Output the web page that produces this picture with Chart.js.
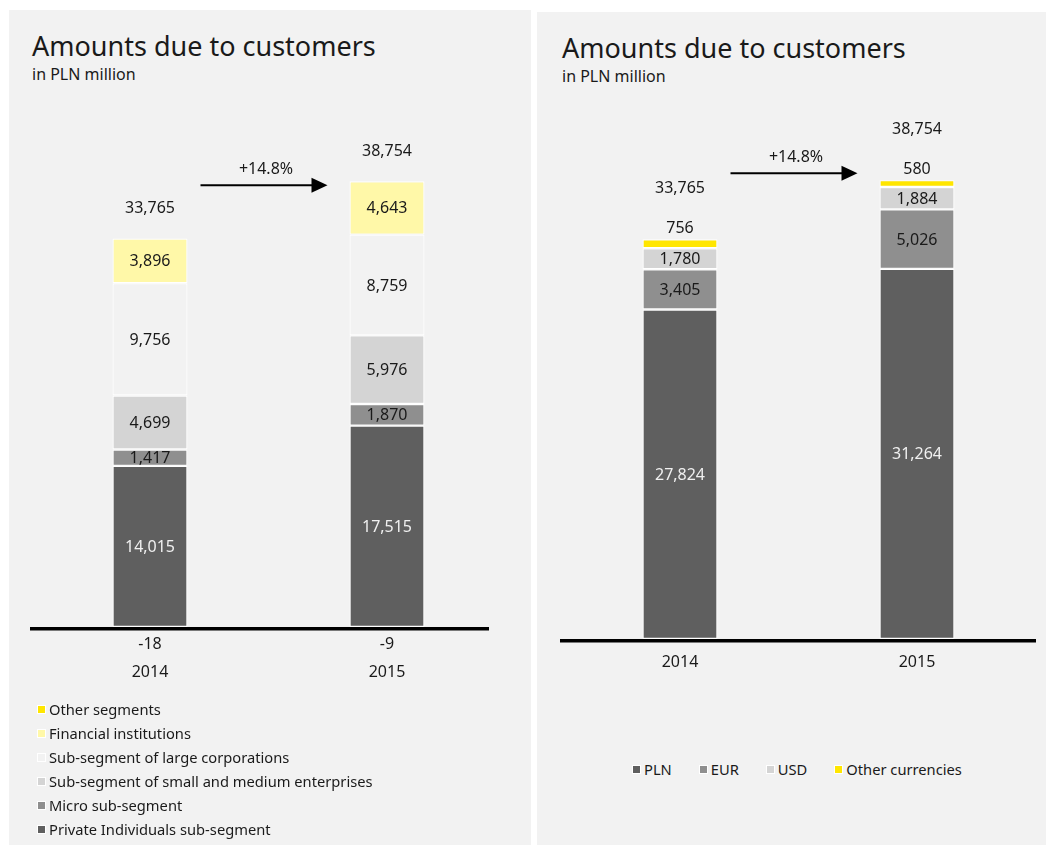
<!DOCTYPE html>
<html lang="en">
<head>
<meta charset="UTF-8">
<title>Amounts due to customers</title>
<script src="https://cdn.jsdelivr.net/npm/chart.js"></script>
<style>
    body { margin: 0; background: #fff; font-family: 'Noto Sans', sans-serif; color: #1a1a1a; }
    .panel { position: absolute; background: #f2f2f2; }
    .title { position: absolute; margin: 0; font-weight: 400; font-size: 27px; line-height: 27px; white-space: nowrap; }
    .sub { position: absolute; margin: 0; font-size: 16px; line-height: 16px; white-space: nowrap; }
    .chart { position: absolute; }
    .legend { position: absolute; font-size: 14.7px; line-height: 18px; }
    .legend .item { display: flex; align-items: center; white-space: nowrap; }
    .legend .box { width: 7px; height: 7px; border: 1px solid #fff; margin-right: 3px; }
    #legendLeft .item { height: 24px; }
    #legendRight { display: flex; gap: 27px; }
</style>
</head>
<body>
<div class="panel" style="left:9px; top:10px; width:522px; height:835px;"></div>
<div class="panel" style="left:537px; top:12px; width:509px; height:833px;"></div>

<h1 class="title" style="left:32px; top:32px;">Amounts due to customers</h1>
<div class="sub" style="left:32px; top:66px;">in PLN million</div>
<h1 class="title" style="left:562px; top:34px;">Amounts due to customers</h1>
<div class="sub" style="left:562px; top:68px;">in PLN million</div>

<div class="chart" style="left:10px; top:100px; width:520px; height:600px;"><canvas id="segChart"></canvas></div>
<div class="chart" style="left:538px; top:100px; width:508px; height:600px;"><canvas id="curChart"></canvas></div>

<div class="legend" id="legendLeft" style="left:37px; top:697px;"></div>
<div class="legend" id="legendRight" style="left:632px; top:760px;"></div>

<script>
    // data (PLN million)
    var years = ['2014', '2015'];

    var privateIndiv = [14015, 17515];
    var micro = [1417, 1870];
    var sme = [4699, 5976];
    var largeCorp = [9756, 8759];
    var finInst = [3896, 4643];
    var otherSeg = [-18, -9];

    var pln = [27824, 31264];
    var eur = [3405, 5026];
    var usd = [1780, 1884];
    var otherCur = [756, 580];

    var fmt = function (v) { return v.toLocaleString('en-US'); };

    // draws segment values, totals, growth arrow, axis line and year labels
    var barText = {
        id: 'barText',
        afterDatasetsDraw: function (chart, args, opts) {
            var ctx = chart.ctx;
            var area = chart.chartArea;
            var n = chart.data.labels.length;
            ctx.save();

            // thick base line
            ctx.strokeStyle = '#000';
            ctx.lineWidth = 3.5;
            ctx.beginPath();
            ctx.moveTo(area.left - 1.5, area.bottom + 1.75);
            ctx.lineTo(area.right - opts.lineInset, area.bottom + 1.75);
            ctx.stroke();

            ctx.font = '16px "Noto Sans"';
            ctx.textAlign = 'center';
            ctx.textBaseline = 'middle';

            var tops = [];
            var totals = [];
            for (var j = 0; j < n; j++) { tops[j] = area.bottom; totals[j] = 0; }

            chart.data.datasets.forEach(function (ds, i) {
                var meta = chart.getDatasetMeta(i);
                meta.data.forEach(function (bar, j) {
                    var v = ds.data[j];
                    totals[j] += v;
                    if (v < 0) {
                        ctx.fillStyle = '#1a1a1a';
                        ctx.fillText(fmt(v), bar.x, area.bottom + 17);
                        return;
                    }
                    tops[j] = Math.min(tops[j], bar.y);
                    if (ds.labelAbove) {
                        ctx.fillStyle = '#1a1a1a';
                        ctx.fillText(fmt(v), bar.x, bar.y - opts.aboveGap);
                    } else {
                        ctx.fillStyle = ds.textColor || '#1a1a1a';
                        ctx.fillText(fmt(v), bar.x, (bar.y + bar.base) / 2 + 1);
                    }
                });
            });

            var xs = chart.getDatasetMeta(0).data;
            // totals and year labels
            ctx.fillStyle = '#1a1a1a';
            for (j = 0; j < n; j++) {
                ctx.fillText(fmt(totals[j]), xs[j].x, tops[j] - opts.totalGap);
                ctx.fillText(chart.data.labels[j], xs[j].x, area.bottom + opts.yearGap);
            }

            // growth arrow
            var half = xs[0].width / 2;
            var x0 = xs[0].x + half + 13;
            var x1 = xs[1].x - half - 22;
            var ay = tops[1] + opts.arrowDy;
            ctx.strokeStyle = '#000';
            ctx.lineWidth = 2;
            ctx.beginPath();
            ctx.moveTo(x0, ay);
            ctx.lineTo(x1 - 14, ay);
            ctx.stroke();
            ctx.fillStyle = '#000';
            ctx.beginPath();
            ctx.moveTo(x1, ay);
            ctx.lineTo(x1 - 16, ay - 7.5);
            ctx.lineTo(x1 - 16, ay + 7.5);
            ctx.closePath();
            ctx.fill();
            var growth = (totals[1] / totals[0] - 1) * 100;
            ctx.fillStyle = '#1a1a1a';
            ctx.fillText('+' + growth.toFixed(1) + '%', (x0 + x1) / 2 + 2, ay - 16);

            ctx.restore();
        }
    };

    function makeChart(id, datasets, yMax, padding, textOpts) {
        return new Chart(document.getElementById(id), {
            type: 'bar',
            data: { labels: years, datasets: datasets },
            options: {
                responsive: true,
                maintainAspectRatio: false,
                animation: false,
                layout: { padding: padding },
                datasets: {
                    bar: {
                        categoryPercentage: 1,
                        barPercentage: 0.3165,
                        borderColor: '#ffffff',
                        borderWidth: 1.2,
                        borderSkipped: false
                    }
                },
                scales: {
                    x: { stacked: true, display: false },
                    y: { stacked: true, display: false, min: 0, max: yMax }
                },
                plugins: {
                    legend: { display: false },
                    tooltip: { enabled: false },
                    barText: textOpts
                }
            },
            plugins: [barText]
        });
    }

    var segSets = [
        { label: 'Private Individuals sub-segment', data: privateIndiv, backgroundColor: '#5f5f5f', textColor: '#f0f0f0' },
        { label: 'Micro sub-segment', data: micro, backgroundColor: '#8f8f8f' },
        { label: 'Sub-segment of small and medium enterprises', data: sme, backgroundColor: '#d4d4d4' },
        { label: 'Sub-segment of large corporations', data: largeCorp, backgroundColor: '#f2f2f2' },
        { label: 'Financial institutions', data: finInst, backgroundColor: '#fff8a8' },
        { label: 'Other segments', data: otherSeg, backgroundColor: '#ffe600' }
    ];

    var curSets = [
        { label: 'PLN', data: pln, backgroundColor: '#5f5f5f', textColor: '#f0f0f0' },
        { label: 'EUR', data: eur, backgroundColor: '#8f8f8f' },
        { label: 'USD', data: usd, backgroundColor: '#d4d4d4' },
        { label: 'Other currencies', data: otherCur, backgroundColor: '#ffe600', labelAbove: true }
    ];

    makeChart('segChart', segSets, 45826,
        { left: 21.5, right: 24.5, top: 0, bottom: 73 },
        { lineInset: 16.5, totalGap: 30, aboveGap: 11, yearGap: 45, arrowDy: 4 });

    makeChart('curChart', curSets, 45524,
        { left: 23.5, right: 10.5, top: 0, bottom: 61 },
        { lineInset: -0.5, totalGap: 51, aboveGap: 11, yearGap: 23, arrowDy: -7 });

    // html legends
    function buildLegend(elId, sets) {
        var el = document.getElementById(elId);
        sets.forEach(function (ds) {
            var item = document.createElement('div');
            item.className = 'item';
            var box = document.createElement('span');
            box.className = 'box';
            box.style.background = ds.backgroundColor;
            item.appendChild(box);
            item.appendChild(document.createTextNode(ds.label));
            el.appendChild(item);
        });
    }
    buildLegend('legendLeft', segSets.slice().reverse());
    buildLegend('legendRight', curSets);
</script>
</body>
</html>
